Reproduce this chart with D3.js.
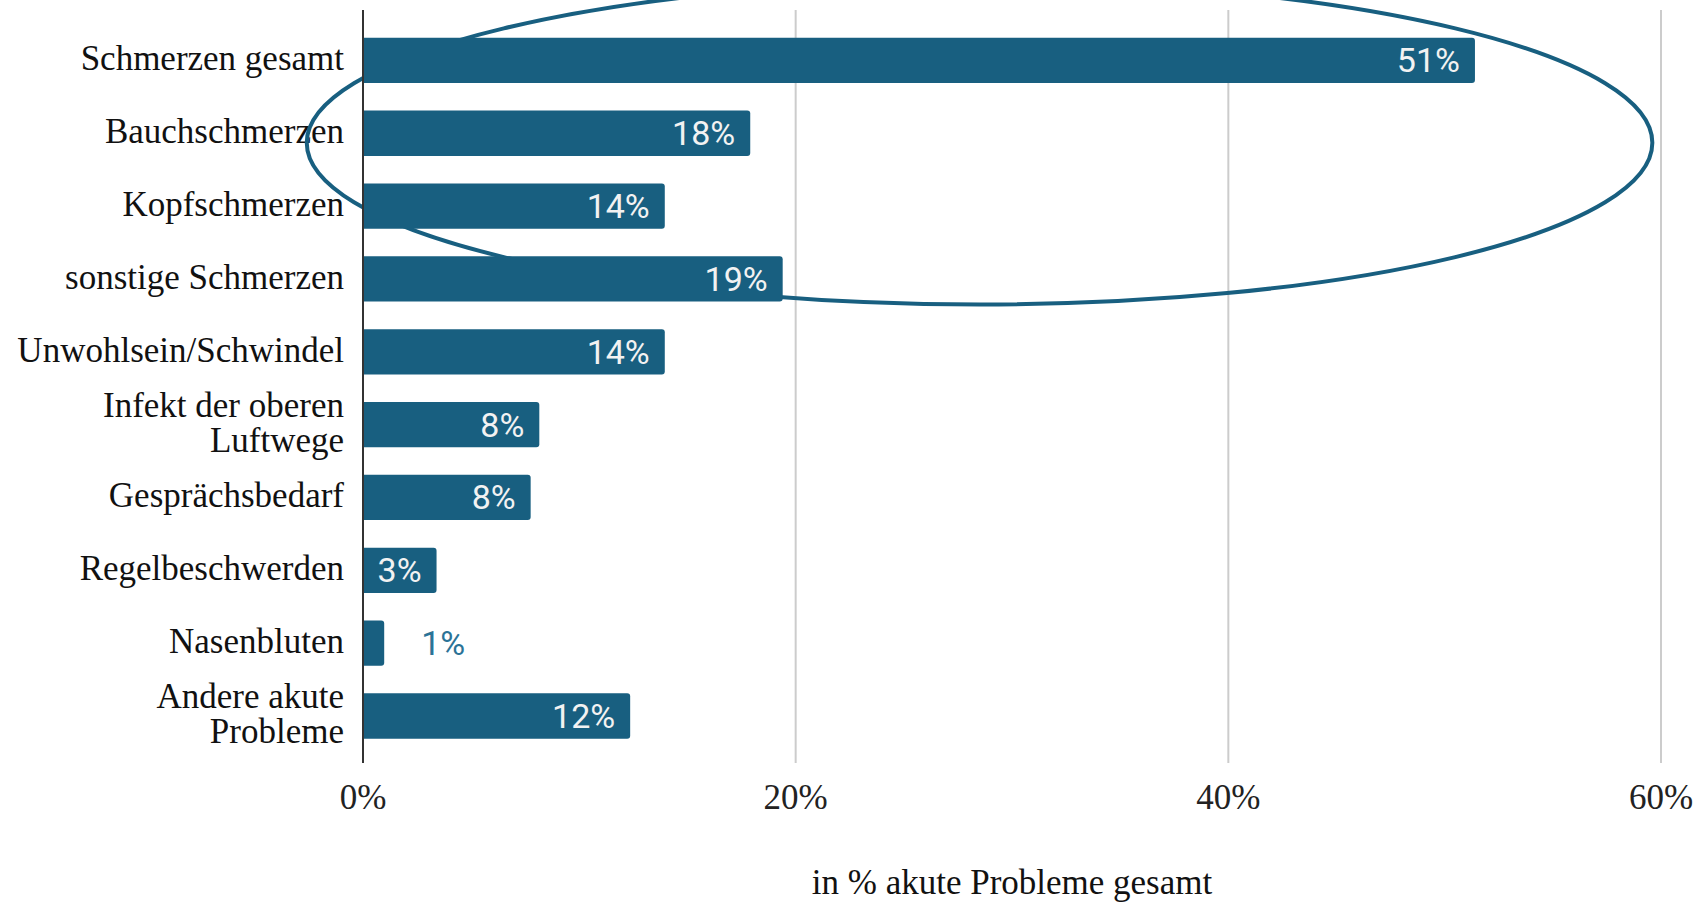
<!DOCTYPE html>
<meta charset="utf-8">
<html>
  <head>
    <script src="https://d3js.org/d3.v7.min.js"></script>
    <style>
      body { margin: 0; background: #fff; }
    </style>
  </head>
  <body>
    <div id="chart"></div>

    <script type="text/javascript">
      // data
      var categories = ["Schmerzen gesamt", "Bauchschmerzen", "Kopfschmerzen", "sonstige Schmerzen",
                        "Unwohlsein/Schwindel", "Infekt der oberen|Luftwege", "Gesprächsbedarf",
                        "Regelbeschwerden", "Nasenbluten", "Andere akute|Probleme"],
          values = [51.4, 17.9, 13.95, 19.4, 13.95, 8.15, 7.75, 3.4, 0.98, 12.35],
          ticks = [0, 20, 40, 60],
          axisTitle = "in % akute Probleme gesamt";

      // annotation ellipse, in data units (percent / category band)
      var ringX = [-2.6, 59.6],
          ringBand = "Bauchschmerzen",
          ringOffset = 0.13,
          ringSpan = 2.22;

      var width = 1703,
          height = 903,
          barColor = "#185f80",
          serif = "'Liberation Serif', 'Times New Roman', serif";

      var data = categories.map(function(c, i){ return { label: c, value: values[i] }; });

      var svg = d3.select("#chart").append("svg")
          .attr("width", width)
          .attr("height", height);

      var x = d3.scaleLinear().domain([0, 60]).range([363, 1661]);
      var y = d3.scaleBand().domain(categories).range([24, 752.4]).paddingInner(0.378).paddingOuter(0.189);

      // grid
      svg.selectAll(".grid")
          .data(ticks.slice(1))
          .enter().append("line")
          .attr("x1", function(d){ return x(d); })
          .attr("x2", function(d){ return x(d); })
          .attr("y1", 10)
          .attr("y2", 763)
          .style("stroke", "#cccccc")
          .style("stroke-width", "2px");

      // tick labels
      svg.selectAll(".tick")
          .data(ticks)
          .enter().append("text")
          .attr("x", function(d){ return x(d); })
          .attr("y", 809)
          .text(function(d){ return d + "%"; })
          .style("font-family", serif)
          .style("font-size", "35px")
          .style("fill", "#222")
          .style("text-anchor", "middle");

      // category labels
      var cats = svg.selectAll(".cat")
          .data(categories)
          .enter().append("text")
          .style("font-family", serif)
          .style("font-size", "35px")
          .style("fill", "#111")
          .style("text-anchor", "end");

      cats.each(function(d){
        var lines = d.split("|"),
            cy = y(d) + y.bandwidth() / 2,
            base = cy + 10 - (lines.length - 1) * 17.5;
        var t = d3.select(this);
        lines.forEach(function(l, i){
          t.append("tspan").attr("x", 344).attr("y", base + i * 35).text(l);
        });
      });

      // ellipse annotation
      var ex0 = x(ringX[0]), ex1 = x(ringX[1]);
      svg.append("ellipse")
          .attr("cx", (ex0 + ex1) / 2)
          .attr("cy", y(ringBand) + y.bandwidth() / 2 + ringOffset * y.step())
          .attr("rx", (ex1 - ex0) / 2)
          .attr("ry", ringSpan * y.step())
          .style("fill", "none")
          .style("stroke", barColor)
          .style("stroke-width", "4px");

      // bars, right corners rounded
      var r = 3;
      svg.selectAll(".bar")
          .data(data)
          .enter().append("path")
          .attr("d", function(d){
            var x0 = x(0), x1 = x(d.value), y0 = y(d.label), y1 = y0 + y.bandwidth();
            return "M" + x0 + "," + y0 + "H" + (x1 - r) + "Q" + x1 + "," + y0 + " " + x1 + "," + (y0 + r) +
                   "V" + (y1 - r) + "Q" + x1 + "," + y1 + " " + (x1 - r) + "," + y1 + "H" + x0 + "Z";
          })
          .style("fill", barColor);

      // axis line
      svg.append("line")
          .attr("x1", x(0)).attr("x2", x(0))
          .attr("y1", 10).attr("y2", 763)
          .style("stroke", "#333")
          .style("stroke-width", "2px");

      // value labels
      svg.selectAll(".val")
          .data(data)
          .enter().append("text")
          .attr("x", function(d){ return d.value < 2 ? x(d.value) + 37 : x(d.value) - 15; })
          .attr("y", function(d){ return y(d.label) + y.bandwidth() / 2 + 12; })
          .text(function(d){ return Math.round(d.value) + "%"; })
          .style("font-family", "Roboto, sans-serif")
          .style("font-size", "34px")
          .style("fill", function(d){ return d.value < 2 ? "#2b7397" : "#f2f2f2"; })
          .style("text-anchor", function(d){ return d.value < 2 ? "start" : "end"; });

      // axis title
      svg.append("text")
          .attr("x", (x(0) + x(60)) / 2)
          .attr("y", 894)
          .text(axisTitle)
          .style("font-family", serif)
          .style("font-size", "35px")
          .style("fill", "#111")
          .style("text-anchor", "middle");
    </script>
  </body>
</html>
